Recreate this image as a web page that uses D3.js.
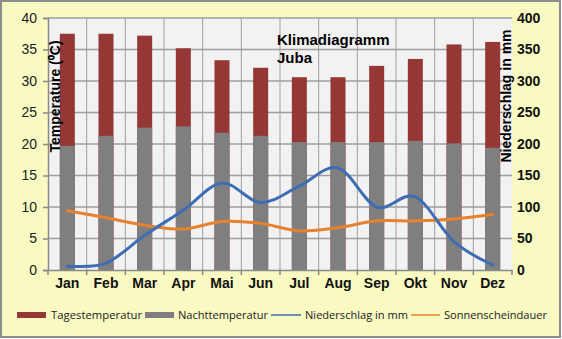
<!DOCTYPE html>
<html>
<head>
<meta charset="utf-8">
<script src="https://cdn.jsdelivr.net/npm/d3@7"></script>
<style>
  html, body { margin: 0; padding: 0; background: #ffffff; }
  svg { display: block; }
</style>
</head>
<body>
<svg id="chart" width="562" height="339"></svg>
<script>
// Klimadiagramm Juba: monthly temperatures (bars), precipitation and sunshine (lines)
const months = ["Jan", "Feb", "Mar", "Apr", "Mai", "Jun", "Jul", "Aug", "Sep", "Okt", "Nov", "Dez"];
const dayTemp = [37.5, 37.5, 37.2, 35.2, 33.3, 32.1, 30.6, 30.6, 32.4, 33.5, 35.8, 36.2];
const nightTemp = [19.7, 21.3, 22.6, 22.8, 21.8, 21.3, 20.3, 20.3, 20.3, 20.5, 20.1, 19.4];
const precipitation = [6, 11, 55, 95, 138, 107, 133, 162, 100, 116, 45, 8];
const sunshine = [9.4, 8.3, 7.1, 6.5, 7.7, 7.4, 6.2, 6.7, 7.8, 7.8, 8.1, 8.8];
const tempTicks = [0, 5, 10, 15, 20, 25, 30, 35, 40];
const precipTicks = [0, 50, 100, 150, 200, 250, 300, 350, 400];
const titleLines = ["Klimadiagramm", "Juba"];
const legendItems = [
  { label: "Tagestemperatur", type: "bar", color: "#953735" },
  { label: "Nachttemperatur", type: "bar", color: "#7f7f7f" },
  { label: "Niederschlag in mm", type: "line", color: "#3d6db3" },
  { label: "Sonnenscheindauer", type: "line", color: "#e6812f" }
];

const svg = d3.select("#chart");
const plot = { left: 48, right: 512, top: 18, bottom: 270 };

// chart area background and frame
svg.append("rect")
  .attr("x", 1).attr("y", 1).attr("width", 559).attr("height", 336)
  .attr("fill", "#f9f9c2").attr("stroke", "#8e8e8e").attr("stroke-width", 2);

// plot area
svg.append("rect")
  .attr("x", plot.left).attr("y", plot.top)
  .attr("width", plot.right - plot.left).attr("height", plot.bottom - plot.top)
  .attr("fill", "#f2f2f2");

const x = d3.scaleBand().domain(months).range([plot.left, plot.right]).paddingInner(0).paddingOuter(0);
const yT = d3.scaleLinear().domain([0, 40]).range([plot.bottom, plot.top]);
const yP = d3.scaleLinear().domain([0, 400]).range([plot.bottom, plot.top]);

const gridColor = "#9e9e9e";
// horizontal gridlines
svg.append("g").selectAll("line").data(tempTicks.filter(d => d > 0)).join("line")
  .attr("x1", plot.left).attr("x2", plot.right)
  .attr("y1", d => yT(d)).attr("y2", d => yT(d))
  .attr("stroke", gridColor).attr("stroke-width", 1.5);

// vertical gridlines at category boundaries
svg.append("g").selectAll("line").data(months.slice(1)).join("line")
  .attr("x1", d => x(d)).attr("x2", d => x(d))
  .attr("y1", plot.top).attr("y2", plot.bottom)
  .attr("stroke", gridColor).attr("stroke-width", 1);

// bars: day temperature behind, night temperature in front
const barW = 15;
svg.append("g").selectAll("rect").data(months).join("rect")
  .attr("x", d => x(d) + x.bandwidth() / 2 - barW / 2)
  .attr("width", barW)
  .attr("y", (d, i) => yT(dayTemp[i]))
  .attr("height", (d, i) => yT(0) - yT(dayTemp[i]))
  .attr("fill", legendItems[0].color);

svg.append("g").selectAll("rect").data(months).join("rect")
  .attr("x", d => x(d) + x.bandwidth() / 2 - barW / 2)
  .attr("width", barW)
  .attr("y", (d, i) => yT(nightTemp[i]))
  .attr("height", (d, i) => yT(0) - yT(nightTemp[i]))
  .attr("fill", legendItems[1].color);

// smoothed lines
const cx = d => x(d) + x.bandwidth() / 2;
const precipLine = d3.line().x((d, i) => cx(months[i])).y(d => yP(d)).curve(d3.curveCardinal.tension(0));
const sunLine = d3.line().x((d, i) => cx(months[i])).y(d => yT(d)).curve(d3.curveCardinal.tension(0));

svg.append("path").datum(sunshine).attr("d", sunLine)
  .attr("fill", "none").attr("stroke", legendItems[3].color).attr("stroke-width", 3)
  .attr("stroke-linecap", "round").attr("stroke-linejoin", "round");
svg.append("path").datum(precipitation).attr("d", precipLine)
  .attr("fill", "none").attr("stroke", legendItems[2].color).attr("stroke-width", 3)
  .attr("stroke-linecap", "round").attr("stroke-linejoin", "round");

// left axis
const leftAxis = svg.append("g").attr("transform", `translate(${plot.left},0)`)
  .call(d3.axisLeft(yT).tickValues(tempTicks).tickSize(5).tickPadding(6).tickFormat(d3.format("d")));
leftAxis.select(".domain").attr("stroke", "#8a8a8a").attr("stroke-width", 1.5);
leftAxis.selectAll(".tick line").attr("stroke", "#8a8a8a").attr("stroke-width", 1.5);
leftAxis.selectAll(".tick text")
  .attr("font-family", "Arial, 'Liberation Sans', sans-serif").attr("font-size", 14)
  .attr("fill", "#1c1c28");

// right axis (labels only)
const rightAxis = svg.append("g").attr("transform", `translate(${plot.right},0)`)
  .call(d3.axisRight(yP).tickValues(precipTicks).tickSize(0).tickPadding(5).tickFormat(d3.format("d")));
rightAxis.select(".domain").remove();
rightAxis.selectAll(".tick text")
  .attr("font-family", "Arial, 'Liberation Sans', sans-serif").attr("font-size", 14)
  .attr("font-weight", "bold").attr("fill", "#111111");

// bottom axis
const bottomAxis = svg.append("g").attr("transform", `translate(0,${plot.bottom})`)
  .call(d3.axisBottom(x).tickSize(0).tickPadding(8));
bottomAxis.select(".domain").attr("stroke", "#8a8a8a").attr("stroke-width", 1.5);
bottomAxis.selectAll(".tick text")
  .attr("font-family", "Arial, 'Liberation Sans', sans-serif").attr("font-size", 14)
  .attr("font-weight", "bold").attr("fill", "#111111");
// category boundary tick marks
svg.append("g").selectAll("line").data(months.concat(["__end"])).join("line")
  .attr("x1", (d, i) => plot.left + i * x.bandwidth()).attr("x2", (d, i) => plot.left + i * x.bandwidth())
  .attr("y1", plot.bottom).attr("y2", plot.bottom + 5)
  .attr("stroke", "#8a8a8a").attr("stroke-width", 1.5);

// axis titles
svg.append("text")
  .attr("transform", `translate(60,${(plot.top + 135) / 2 + 20}) rotate(-90)`)
  .attr("text-anchor", "middle")
  .attr("font-family", "Arial, 'Liberation Sans', sans-serif").attr("font-size", 14)
  .attr("font-weight", "bold").attr("fill", "#000")
  .text("Temperature (⁰C)");

svg.append("text")
  .attr("transform", `translate(511,96) rotate(-90)`)
  .attr("text-anchor", "middle")
  .attr("font-family", "Arial, 'Liberation Sans', sans-serif").attr("font-size", 14)
  .attr("font-weight", "bold").attr("fill", "#000")
  .text("Niederschlag in mm");

// chart title
svg.append("g").selectAll("text").data(titleLines).join("text")
  .attr("x", 277).attr("y", (d, i) => 45 + i * 18)
  .attr("font-family", "Arial, 'Liberation Sans', sans-serif").attr("font-size", 15)
  .attr("font-weight", "bold").attr("fill", "#000")
  .text(d => d);

// legend
const legendX = [17, 145, 271, 411];
const legendTextX = [51, 178, 305, 444];
const legendTextW = [91, 90, 103, 103];
const lg = svg.append("g");
legendItems.forEach((item, i) => {
  if (item.type === "bar") {
    lg.append("rect").attr("x", legendX[i]).attr("y", 312).attr("width", 29).attr("height", 6)
      .attr("fill", item.color);
  } else {
    lg.append("line").attr("x1", legendX[i]).attr("x2", legendTextX[i] - 4)
      .attr("y1", 315).attr("y2", 315)
      .attr("stroke", item.color).attr("stroke-width", 1.5);
  }
  lg.append("text").attr("x", legendTextX[i]).attr("y", 318.5)
    .attr("font-family", "'Open Sans', 'Liberation Sans', sans-serif").attr("font-size", 10.5)
    .attr("fill", "#222222")
    .attr("textLength", legendTextW[i]).attr("lengthAdjust", "spacingAndGlyphs")
    .text(item.label);
});
</script>
</body>
</html>
